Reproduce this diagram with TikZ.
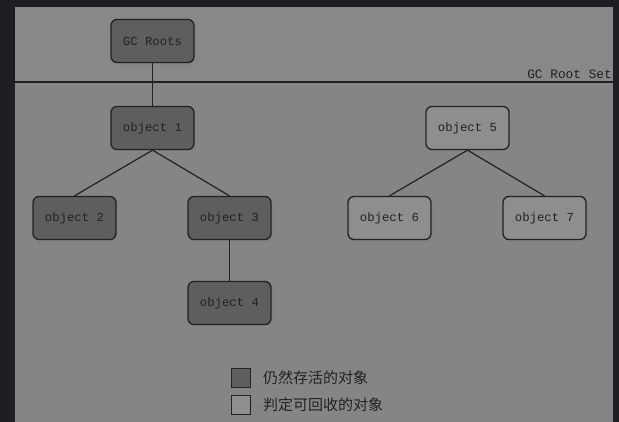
\documentclass[tikz,border=0pt]{standalone}
\usepackage{fontspec}
\setmonofont{Liberation Mono}
\newfontfamily\cjk{Noto Sans CJK SC}
\usetikzlibrary{shadows}
\definecolor{frame}{HTML}{1E1F22}
\definecolor{panel}{HTML}{858585}
\definecolor{panelup}{HTML}{888888}
\definecolor{alive}{HTML}{5E5E5E}
\definecolor{dead}{HTML}{8E8E8E}
\definecolor{ink}{HTML}{222222}
\tikzset{
  objbox/.style={draw=ink, line width=1.3pt, rounded corners=6pt,
    minimum width=83pt, minimum height=43pt, inner sep=0pt,
    font=\ttfamily\fontsize{12.3}{12.3}\selectfont, text=ink,
    drop shadow={shadow xshift=1.5pt, shadow yshift=-2pt, opacity=0.45}},
  livebox/.style={objbox, fill=alive},
  deadbox/.style={objbox, fill=dead},
  link/.style={draw=ink, line width=1.2pt},
  keybox/.style={draw=ink, line width=1pt, minimum size=19pt, inner sep=0pt},
  keytext/.style={anchor=west, font=\cjk\fontsize{15}{15}\selectfont, text=ink, inner sep=0pt}
}
\begin{document}
\begin{tikzpicture}[x=1pt, y=-1pt]
  % frame and panel
  \fill[frame] (0,0) rectangle (619,422);
  \fill[panel] (15,7) rectangle (613,422);
  \fill[panelup] (15,7) rectangle (613,82);
  \useasboundingbox (0,0) rectangle (619,422);

  % root set boundary
  \coordinate (setL) at (15,82);
  \coordinate (setR) at (613,82);
  \draw[link] (setL) -- (setR);
  \node[anchor=south east, inner sep=0pt, font=\ttfamily\fontsize{12.8}{12.8}\selectfont, text=ink]
    (setlabel) at (612,79) {GC Root Set};

  % objects
  \node[livebox] (roots) at (152.5,41) {GC Roots};
  \node[livebox] (o1) at (152.5,128) {object 1};
  \node[livebox] (o2) at (74.5,218) {object 2};
  \node[livebox] (o3) at (229.5,218) {object 3};
  \node[livebox] (o4) at (229.5,303) {object 4};
  \node[deadbox] (o5) at (467.5,128) {object 5};
  \node[deadbox] (o6) at (389.5,218) {object 6};
  \node[deadbox] (o7) at (544.5,218) {object 7};

  % references
  \draw[link] (roots) -- (o1);
  \draw[link] (o1.south) -- (o2.north);
  \draw[link] (o1.south) -- (o3.north);
  \draw[link] (o3) -- (o4);
  \draw[link] (o5.south) -- (o6.north);
  \draw[link] (o5.south) -- (o7.north);

  % legend
  \node[keybox, fill=alive] (k1) at (240.5,378) {};
  \node[keybox, fill=dead] (k2) at (240.5,405) {};
  \node[keytext] (t1) at (263,378) {仍然存活的对象};
  \node[keytext] (t2) at (263,405) {判定可回收的对象};
\end{tikzpicture}
\end{document}
